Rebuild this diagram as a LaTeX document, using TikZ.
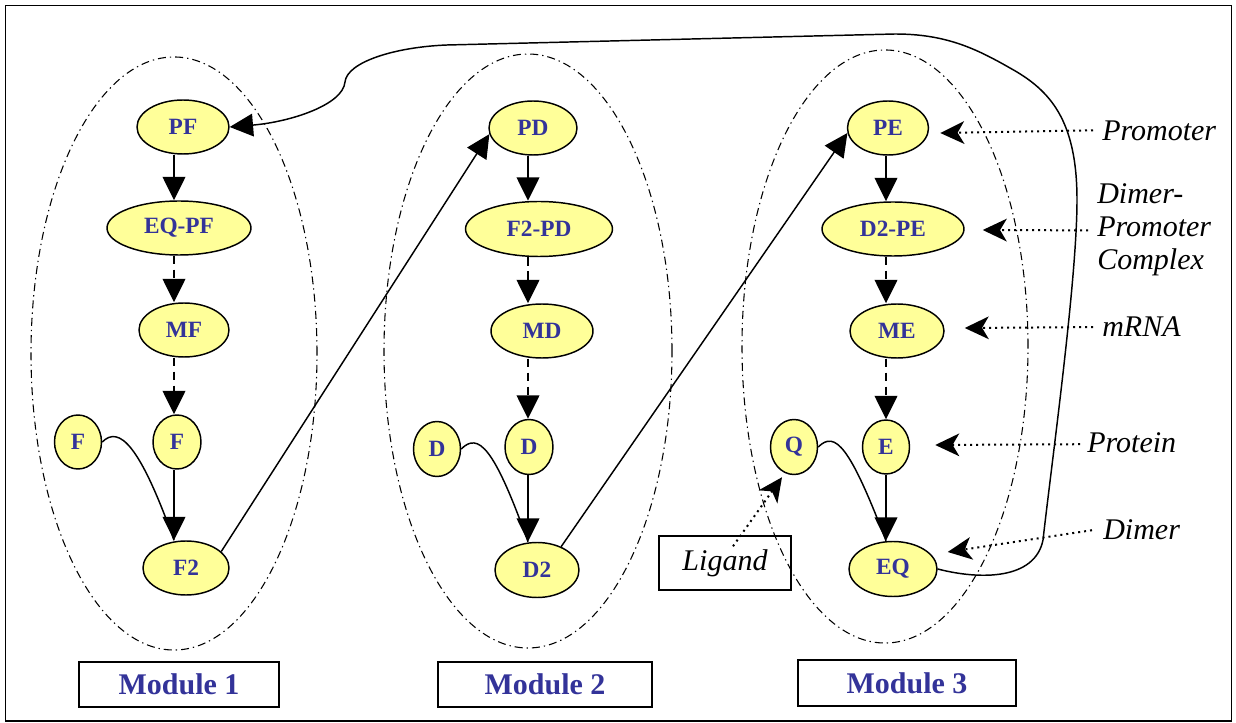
\documentclass[tikz,border=0pt]{standalone}
\usepackage{fontspec}
\setmainfont{Liberation Serif}
\usetikzlibrary{shapes.geometric,arrows.meta,calc}
\definecolor{nodeyellow}{HTML}{FFFF99}
\definecolor{nodeblue}{HTML}{333399}
\begin{document}
\begin{tikzpicture}[x=0.75pt,y=-0.75pt,
  gnode/.style={ellipse,draw,fill=nodeyellow,line width=1.1pt,inner sep=0pt,text=nodeblue,
    font=\bfseries\fontsize{17.5}{20}\selectfont},
  sz/.style n args={2}{minimum width=#1*0.75pt,minimum height=#2*0.75pt},
  solidarr/.style={line width=1.1pt,-{Triangle[length=17.5pt,width=17pt]}},
  dasharr/.style={solidarr,dash pattern=on 6.5pt off 4pt},
  plainline/.style={line width=1.1pt},
  dotarr/.style={line width=1.5pt,dash pattern=on 1.5pt off 3pt,
    -{Stealth[length=18pt,width=17pt,inset=5pt]}},
  modring/.style={line width=0.8pt,dash pattern=on 6pt off 3pt on 1pt off 3pt},
  lab/.style={inner sep=0pt,font=\itshape\fontsize{22.5}{24.75}\selectfont},
  modbox/.style={draw,line width=1.1pt,inner sep=0pt,text=nodeblue,
    font=\bfseries\fontsize{22.5}{26}\selectfont},
]
\path[use as bounding box] (0,0) rectangle (1236,723);
\draw[line width=1.1pt] (5.5,5.5) rectangle (1231.5,721);

% module rings
\draw[modring] (174,353.5) ellipse [x radius=107.25pt, y radius=222.4pt];
\draw[modring] (528,351) ellipse [x radius=108pt, y radius=222.75pt];
\draw[modring] (885,346.5) ellipse [x radius=107.25pt, y radius=222.4pt];

% column coordinates
\coordinate (c1) at (174,0);
\coordinate (c2) at (528,0);
\coordinate (c3) at (886,0);

% Module 1
\node[gnode,sz={92}{54}] (PF) at (183,127) {PF};
\node[gnode,sz={144}{54}] (EQPF) at (179,228) {EQ-PF};
\node[gnode,sz={90}{54}] (MF) at (184,330) {MF};
\node[gnode,sz={48}{54}] (F1) at (177,442) {F};
\node[gnode,sz={47}{54}] (Fl) at (78,442) {F};
\node[gnode,sz={86}{54}] (F2) at (186,568) {F2};

% Module 2
\node[gnode,sz={88}{54}] (PD) at (533,128) {PD};
\node[gnode,sz={147}{55}] (F2PD) at (539,229) {F2-PD};
\node[gnode,sz={102}{54}] (MD) at (542,331) {MD};
\node[gnode,sz={48}{55}] (D1) at (529,447) {D};
\node[gnode,sz={47}{55}] (Dl) at (437,449) {D};
\node[gnode,sz={84}{55}] (D2) at (537,570) {D2};

% Module 3
\node[gnode,sz={81}{54}] (PE) at (888,128) {PE};
\node[gnode,sz={142}{54}] (D2PE) at (893,229) {D2-PE};
\node[gnode,sz={94}{54}] (ME) at (897,331) {ME};
\node[gnode,sz={47}{54}] (E) at (886,447) {E};
\node[gnode,sz={47}{55}] (Q) at (794,447) {Q};
\node[gnode,sz={88}{55}] (EQ) at (893,569) {EQ};

% module boxes
\node[modbox,minimum width=150pt,minimum height=33.75pt] (mod1) at (179,684.5) {Module 1};
\node[modbox,minimum width=160.5pt,minimum height=33.75pt] (mod2) at (545,684.5) {Module 2};
\node[modbox,minimum width=163.5pt,minimum height=34.5pt] (mod3) at (907,683) {Module 3};

% labels
\node[lab,anchor=base west] (lProm) at (1102,141) {Promoter};
\node[lab,anchor=north west,align=left] (lDPC) at (1097,183) {Dimer-\\Promoter\\Complex};
\node[lab,anchor=base west] (lmRNA) at (1102,337) {mRNA};
\node[lab,anchor=base west] (lProt) at (1087,453) {Protein};
\node[lab,anchor=base west] (lDimer) at (1103,540) {Dimer};
\node[draw,line width=1.1pt,inner sep=0pt,minimum width=99pt,minimum height=40.5pt,
  font=\itshape\fontsize{22.5}{24.75}\selectfont] (ligand) at (725,563) {Ligand};

% Module 1 edges
\draw[solidarr] (PF.south -| c1) -- (EQPF.north -| c1);
\draw[dasharr] (EQPF.south -| c1) -- (MF.north -| c1);
\draw[dasharr] (MF.south -| c1) -- (F1.north -| c1);
\draw[solidarr] (F1.south -| c1) -- (F2.north -| c1);
\draw[plainline] (Fl.east) .. controls +(17,-17) and +(-34,-95) .. (F2.north -| c1);

% Module 2 edges
\draw[solidarr] (PD.south -| c2) -- (F2PD.north -| c2);
\draw[dasharr] (F2PD.south -| c2) -- (MD.north -| c2);
\draw[dasharr] (MD.south -| c2) -- (D1.north -| c2);
\draw[solidarr] (D1.south -| c2) -- (D2.north -| c2);
\draw[plainline] (Dl.east) .. controls +(17,-17) and +(-34,-95) .. (D2.north -| c2);

% Module 3 edges
\draw[solidarr] (PE.south -| c3) -- (D2PE.north -| c3);
\draw[dasharr] (D2PE.south -| c3) -- (ME.north -| c3);
\draw[dasharr] (ME.south -| c3) -- (E.north -| c3);
\draw[solidarr] (E.south -| c3) -- (EQ.north -| c3);
\draw[plainline] (Q.east) .. controls +(17,-17) and +(-36,-94) .. (EQ.north -| c3);

% inter-module edges
\draw[solidarr] (F2.25) -- (PD.188);
\draw[solidarr] (D2.44) -- (PE.187);
\draw[solidarr] (EQ.east) .. controls (980,580) and (1035,580) .. (1043,540)
  .. controls (1052,460) and (1077,280) .. (1077,200)
  .. controls (1077,120) and (1050,90) .. (1010,68)
  .. controls (975,48) and (945,34) .. (895,34)
  -- (447,45)
  .. controls (395,47) and (347,62) .. (345,82)
  .. controls (343,105) and (290,122) .. (PF.east);

% annotation arrows
\draw[dotarr] ($(lProm.west)+(-9,-1)$) -- ($(PE.east)+(11,5)$);
\draw[dotarr] ($(lDPC.west)+(-9,1)$) -- ($(D2PE.east)+(18,1)$);
\draw[dotarr] ($(lmRNA.west)+(-9,0)$) -- ($(ME.east)+(20,-3)$);
\draw[dotarr] ($(lProt.west)+(-7,1)$) -- ($(E.east)+(25,-2)$);
\draw[dotarr] ($(lDimer.west)+(-11,0)$) -- ($(EQ.east)+(10,-17)$);
\draw[dotarr] ($(ligand.north)+(8,11)$) -- ($(Q.south)+(-12,2)$);
\end{tikzpicture}
\end{document}
